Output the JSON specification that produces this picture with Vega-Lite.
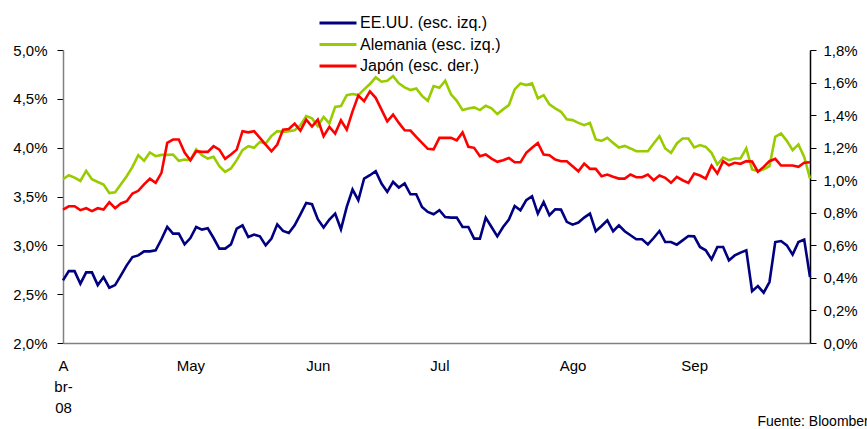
{
  "$schema": "https://vega.github.io/schema/vega-lite/v6.json",
  "width": 747,
  "height": 293,
  "autosize": "none",
  "padding": {"left": 63, "top": 50, "right": 57, "bottom": 86},
  "background": "white",
  "config": {
    "view": {"stroke": null},
    "font": "Liberation Sans",
    "axis": {"grid": false, "labelFont": "Liberation Sans", "labelFontSize": 15, "labelColor": "#000000"},
    "legend": {"labelFont": "Liberation Sans"}
  },
  "data": {"values": [
    {"fecha":"2008-04-01","eeuu":2.641,"alemania":3.677,"japon":0.820},
    {"fecha":"2008-04-02","eeuu":2.736,"alemania":3.718,"japon":0.840},
    {"fecha":"2008-04-03","eeuu":2.736,"alemania":3.694,"japon":0.840},
    {"fecha":"2008-04-04","eeuu":2.607,"alemania":3.659,"japon":0.816},
    {"fecha":"2008-04-07","eeuu":2.723,"alemania":3.762,"japon":0.828},
    {"fecha":"2008-04-08","eeuu":2.723,"alemania":3.677,"japon":0.810},
    {"fecha":"2008-04-09","eeuu":2.593,"alemania":3.649,"japon":0.828},
    {"fecha":"2008-04-10","eeuu":2.675,"alemania":3.623,"japon":0.820},
    {"fecha":"2008-04-11","eeuu":2.566,"alemania":3.536,"japon":0.865},
    {"fecha":"2008-04-14","eeuu":2.593,"alemania":3.544,"japon":0.828},
    {"fecha":"2008-04-15","eeuu":2.692,"alemania":3.626,"japon":0.857},
    {"fecha":"2008-04-16","eeuu":2.795,"alemania":3.708,"japon":0.871},
    {"fecha":"2008-04-17","eeuu":2.880,"alemania":3.803,"japon":0.918},
    {"fecha":"2008-04-18","eeuu":2.897,"alemania":3.923,"japon":0.935},
    {"fecha":"2008-04-21","eeuu":2.938,"alemania":3.865,"japon":0.975},
    {"fecha":"2008-04-22","eeuu":2.938,"alemania":3.951,"japon":1.009},
    {"fecha":"2008-04-23","eeuu":2.949,"alemania":3.913,"japon":0.984},
    {"fecha":"2008-04-24","eeuu":3.062,"alemania":3.926,"japon":1.045},
    {"fecha":"2008-04-25","eeuu":3.188,"alemania":3.926,"japon":1.229},
    {"fecha":"2008-04-28","eeuu":3.120,"alemania":3.930,"japon":1.250},
    {"fecha":"2008-04-29","eeuu":3.120,"alemania":3.865,"japon":1.250},
    {"fecha":"2008-04-30","eeuu":3.010,"alemania":3.879,"japon":1.170},
    {"fecha":"2008-05-01","eeuu":3.075,"alemania":3.872,"japon":1.123},
    {"fecha":"2008-05-02","eeuu":3.188,"alemania":3.982,"japon":1.178},
    {"fecha":"2008-05-05","eeuu":3.161,"alemania":3.923,"japon":1.174},
    {"fecha":"2008-05-06","eeuu":3.174,"alemania":3.889,"japon":1.174},
    {"fecha":"2008-05-07","eeuu":3.075,"alemania":3.906,"japon":1.209},
    {"fecha":"2008-05-08","eeuu":2.966,"alemania":3.810,"japon":1.188},
    {"fecha":"2008-05-09","eeuu":2.966,"alemania":3.752,"japon":1.131},
    {"fecha":"2008-05-12","eeuu":3.010,"alemania":3.787,"japon":1.158},
    {"fecha":"2008-05-13","eeuu":3.171,"alemania":3.872,"japon":1.188},
    {"fecha":"2008-05-14","eeuu":3.205,"alemania":3.974,"japon":1.301},
    {"fecha":"2008-05-15","eeuu":3.085,"alemania":4.015,"japon":1.294},
    {"fecha":"2008-05-16","eeuu":3.110,"alemania":3.998,"japon":1.301},
    {"fecha":"2008-05-19","eeuu":3.092,"alemania":4.059,"japon":1.260},
    {"fecha":"2008-05-20","eeuu":3.000,"alemania":4.043,"japon":1.219},
    {"fecha":"2008-05-21","eeuu":3.069,"alemania":4.121,"japon":1.178},
    {"fecha":"2008-05-22","eeuu":3.215,"alemania":4.169,"japon":1.219},
    {"fecha":"2008-05-23","eeuu":3.147,"alemania":4.162,"japon":1.311},
    {"fecha":"2008-05-26","eeuu":3.126,"alemania":4.169,"japon":1.315},
    {"fecha":"2008-05-27","eeuu":3.205,"alemania":4.179,"japon":1.348},
    {"fecha":"2008-05-28","eeuu":3.318,"alemania":4.231,"japon":1.305},
    {"fecha":"2008-05-29","eeuu":3.434,"alemania":4.323,"japon":1.372},
    {"fecha":"2008-05-30","eeuu":3.421,"alemania":4.300,"japon":1.330},
    {"fecha":"2008-06-02","eeuu":3.267,"alemania":4.221,"japon":1.372},
    {"fecha":"2008-06-03","eeuu":3.182,"alemania":4.316,"japon":1.270},
    {"fecha":"2008-06-04","eeuu":3.264,"alemania":4.248,"japon":1.328},
    {"fecha":"2008-06-05","eeuu":3.325,"alemania":4.418,"japon":1.287},
    {"fecha":"2008-06-06","eeuu":3.164,"alemania":4.426,"japon":1.368},
    {"fecha":"2008-06-09","eeuu":3.393,"alemania":4.538,"japon":1.311},
    {"fecha":"2008-06-10","eeuu":3.571,"alemania":4.549,"japon":1.423},
    {"fecha":"2008-06-11","eeuu":3.462,"alemania":4.538,"japon":1.520},
    {"fecha":"2008-06-12","eeuu":3.684,"alemania":4.597,"japon":1.485},
    {"fecha":"2008-06-13","eeuu":3.718,"alemania":4.651,"japon":1.546},
    {"fecha":"2008-06-16","eeuu":3.759,"alemania":4.720,"japon":1.506},
    {"fecha":"2008-06-17","eeuu":3.633,"alemania":4.675,"japon":1.434},
    {"fecha":"2008-06-18","eeuu":3.547,"alemania":4.685,"japon":1.362},
    {"fecha":"2008-06-19","eeuu":3.649,"alemania":4.733,"japon":1.403},
    {"fecha":"2008-06-20","eeuu":3.592,"alemania":4.658,"japon":1.352},
    {"fecha":"2008-06-23","eeuu":3.633,"alemania":4.617,"japon":1.307},
    {"fecha":"2008-06-24","eeuu":3.523,"alemania":4.590,"japon":1.305},
    {"fecha":"2008-06-25","eeuu":3.523,"alemania":4.607,"japon":1.266},
    {"fecha":"2008-06-26","eeuu":3.393,"alemania":4.530,"japon":1.229},
    {"fecha":"2008-06-27","eeuu":3.342,"alemania":4.480,"japon":1.193},
    {"fecha":"2008-06-30","eeuu":3.318,"alemania":4.631,"japon":1.190},
    {"fecha":"2008-07-01","eeuu":3.359,"alemania":4.613,"japon":1.260},
    {"fecha":"2008-07-02","eeuu":3.290,"alemania":4.685,"japon":1.260},
    {"fecha":"2008-07-03","eeuu":3.284,"alemania":4.546,"japon":1.260},
    {"fecha":"2008-07-04","eeuu":3.284,"alemania":4.480,"japon":1.245},
    {"fecha":"2008-07-07","eeuu":3.188,"alemania":4.385,"japon":1.294},
    {"fecha":"2008-07-08","eeuu":3.188,"alemania":4.402,"japon":1.205},
    {"fecha":"2008-07-09","eeuu":3.069,"alemania":4.412,"japon":1.199},
    {"fecha":"2008-07-10","eeuu":3.069,"alemania":4.385,"japon":1.147},
    {"fecha":"2008-07-11","eeuu":3.284,"alemania":4.429,"japon":1.158},
    {"fecha":"2008-07-14","eeuu":3.188,"alemania":4.402,"japon":1.133},
    {"fecha":"2008-07-15","eeuu":3.092,"alemania":4.344,"japon":1.113},
    {"fecha":"2008-07-16","eeuu":3.188,"alemania":4.392,"japon":1.123},
    {"fecha":"2008-07-17","eeuu":3.264,"alemania":4.436,"japon":1.137},
    {"fecha":"2008-07-18","eeuu":3.403,"alemania":4.597,"japon":1.110},
    {"fecha":"2008-07-21","eeuu":3.359,"alemania":4.658,"japon":1.110},
    {"fecha":"2008-07-22","eeuu":3.462,"alemania":4.641,"japon":1.168},
    {"fecha":"2008-07-23","eeuu":3.503,"alemania":4.658,"japon":1.199},
    {"fecha":"2008-07-24","eeuu":3.325,"alemania":4.505,"japon":1.229},
    {"fecha":"2008-07-25","eeuu":3.444,"alemania":4.538,"japon":1.158},
    {"fecha":"2008-07-28","eeuu":3.308,"alemania":4.443,"japon":1.153},
    {"fecha":"2008-07-29","eeuu":3.369,"alemania":4.402,"japon":1.127},
    {"fecha":"2008-07-30","eeuu":3.366,"alemania":4.367,"japon":1.117},
    {"fecha":"2008-07-31","eeuu":3.240,"alemania":4.290,"japon":1.117},
    {"fecha":"2008-08-01","eeuu":3.212,"alemania":4.282,"japon":1.086},
    {"fecha":"2008-08-04","eeuu":3.233,"alemania":4.254,"japon":1.055},
    {"fecha":"2008-08-05","eeuu":3.284,"alemania":4.231,"japon":1.102},
    {"fecha":"2008-08-06","eeuu":3.325,"alemania":4.254,"japon":1.070},
    {"fecha":"2008-08-07","eeuu":3.144,"alemania":4.084,"japon":1.070},
    {"fecha":"2008-08-08","eeuu":3.198,"alemania":4.070,"japon":1.025},
    {"fecha":"2008-08-11","eeuu":3.256,"alemania":4.101,"japon":1.035},
    {"fecha":"2008-08-12","eeuu":3.144,"alemania":4.049,"japon":1.021},
    {"fecha":"2008-08-13","eeuu":3.205,"alemania":4.002,"japon":1.010},
    {"fecha":"2008-08-14","eeuu":3.144,"alemania":4.018,"japon":1.010},
    {"fecha":"2008-08-15","eeuu":3.103,"alemania":3.992,"japon":1.035},
    {"fecha":"2008-08-18","eeuu":3.062,"alemania":3.964,"japon":1.018},
    {"fecha":"2008-08-19","eeuu":3.062,"alemania":3.964,"japon":1.018},
    {"fecha":"2008-08-20","eeuu":3.010,"alemania":3.964,"japon":1.035},
    {"fecha":"2008-08-21","eeuu":3.075,"alemania":4.043,"japon":1.000},
    {"fecha":"2008-08-22","eeuu":3.147,"alemania":4.118,"japon":1.029},
    {"fecha":"2008-08-25","eeuu":3.034,"alemania":3.992,"japon":1.015},
    {"fecha":"2008-08-26","eeuu":3.034,"alemania":3.947,"japon":0.984},
    {"fecha":"2008-08-27","eeuu":3.007,"alemania":4.043,"japon":1.021},
    {"fecha":"2008-08-28","eeuu":3.051,"alemania":4.094,"japon":1.000},
    {"fecha":"2008-08-29","eeuu":3.095,"alemania":4.094,"japon":0.984},
    {"fecha":"2008-09-01","eeuu":3.092,"alemania":4.002,"japon":1.041},
    {"fecha":"2008-09-02","eeuu":2.983,"alemania":4.026,"japon":1.029},
    {"fecha":"2008-09-03","eeuu":2.949,"alemania":4.008,"japon":1.010},
    {"fecha":"2008-09-04","eeuu":2.856,"alemania":3.947,"japon":1.090},
    {"fecha":"2008-09-05","eeuu":2.983,"alemania":3.828,"japon":1.041},
    {"fecha":"2008-09-08","eeuu":2.983,"alemania":3.899,"japon":1.117},
    {"fecha":"2008-09-09","eeuu":2.846,"alemania":3.872,"japon":1.092},
    {"fecha":"2008-09-10","eeuu":2.897,"alemania":3.889,"japon":1.107},
    {"fecha":"2008-09-11","eeuu":2.925,"alemania":3.889,"japon":1.101},
    {"fecha":"2008-09-12","eeuu":2.949,"alemania":3.992,"japon":1.117},
    {"fecha":"2008-09-15","eeuu":2.531,"alemania":3.776,"japon":1.115},
    {"fecha":"2008-09-16","eeuu":2.583,"alemania":3.759,"japon":1.052},
    {"fecha":"2008-09-17","eeuu":2.515,"alemania":3.779,"japon":1.082},
    {"fecha":"2008-09-18","eeuu":2.624,"alemania":3.810,"japon":1.117},
    {"fecha":"2008-09-19","eeuu":3.034,"alemania":4.111,"japon":1.131},
    {"fecha":"2008-09-22","eeuu":3.044,"alemania":4.146,"japon":1.090},
    {"fecha":"2008-09-23","eeuu":3.000,"alemania":4.070,"japon":1.090},
    {"fecha":"2008-09-24","eeuu":2.905,"alemania":3.974,"japon":1.090},
    {"fecha":"2008-09-25","eeuu":3.034,"alemania":4.033,"japon":1.082},
    {"fecha":"2008-09-26","eeuu":3.058,"alemania":3.906,"japon":1.107},
    {"fecha":"2008-09-29","eeuu":2.675,"alemania":3.684,"japon":1.110}
  ]},
  "encoding": {
    "x": {
      "field": "fecha", "type": "ordinal",
      "scale": {"type": "point", "padding": 0},
      "axis": {
        "values": ["2008-04-01","2008-05-01","2008-06-02","2008-07-01","2008-08-01","2008-09-01"],
        "labelExpr": "datum.value == '2008-04-01' ? ['A','br-','08'] : datum.value == '2008-05-01' ? 'May' : datum.value == '2008-06-02' ? 'Jun' : datum.value == '2008-07-01' ? 'Jul' : datum.value == '2008-08-01' ? 'Ago' : 'Sep'",
        "ticks": false,
        "tickSize": 0,
        "labelAngle": 0,
        "labelPadding": 15,
        "labelLineHeight": 21,
        "labelOverlap": false,
        "labelFontSize": 15,
        "domainColor": "#808080",
        "domainWidth": 1.5,
        "title": "Fuente: Bloomberg",
        "titleFont": "Liberation Sans",
        "titleFontSize": 14,
        "titleFontWeight": "normal",
        "titleColor": "#000000",
        "titleX": 694,
        "titleY": 78,
        "titleAlign": "left",
        "titleBaseline": "middle",
        "titleAngle": 0
      }
    },
    "color": {
      "field": "serie", "type": "nominal",
      "scale": {"domain": ["eeuu","alemania","japon"], "range": ["#000080","#99CC00","#FF0000"]},
      "legend": {
        "orient": "none",
        "legendX": 264,
        "legendY": -38,
        "title": null,
        "padding": 0,
        "symbolType": "M-2,0H2",
        "symbolSize": 342,
        "symbolStrokeWidth": 3,
        "labelFontSize": 16,
        "labelColor": "#000000",
        "labelOffset": 11,
        "rowPadding": 2.5,
        "labelExpr": "datum.value == 'eeuu' ? 'EE.UU. (esc. izq.)' : datum.value == 'alemania' ? 'Alemania (esc. izq.)' : 'Japón (esc. der.)'"
      }
    }
  },
  "layer": [
    {
      "transform": [{"fold": ["eeuu","alemania"], "as": ["serie","valor"]}],
      "mark": {"type": "line", "strokeWidth": 2.6},
      "encoding": {
        "y": {
          "field": "valor", "type": "quantitative",
          "scale": {"domain": [2, 5], "nice": false, "zero": false},
          "axis": {
            "orient": "left",
            "values": [2, 2.5, 3, 3.5, 4, 4.5, 5],
            "labelExpr": "replace(format(datum.value, '.1f'), '.', ',') + '%'",
            "tickSize": 6,
            "tickColor": "#000000",
            "labelPadding": 10,
            "domainColor": "#808080",
            "domainWidth": 1.5,
            "title": null
          }
        }
      }
    },
    {
      "transform": [{"fold": ["japon"], "as": ["serie","valor"]}],
      "mark": {"type": "line", "strokeWidth": 2.6},
      "encoding": {
        "y": {
          "field": "valor", "type": "quantitative",
          "scale": {"domain": [0, 1.8], "nice": false, "zero": false},
          "axis": {
            "orient": "right",
            "values": [0, 0.2, 0.4, 0.6, 0.8, 1, 1.2, 1.4, 1.6, 1.8],
            "labelExpr": "replace(format(datum.value, '.1f'), '.', ',') + '%'",
            "tickSize": 6,
            "tickColor": "#000000",
            "labelPadding": 7,
            "domainColor": "#000000",
            "domainWidth": 1.5,
            "title": null
          }
        }
      }
    }
  ],
  "resolve": {"scale": {"y": "independent"}}
}
